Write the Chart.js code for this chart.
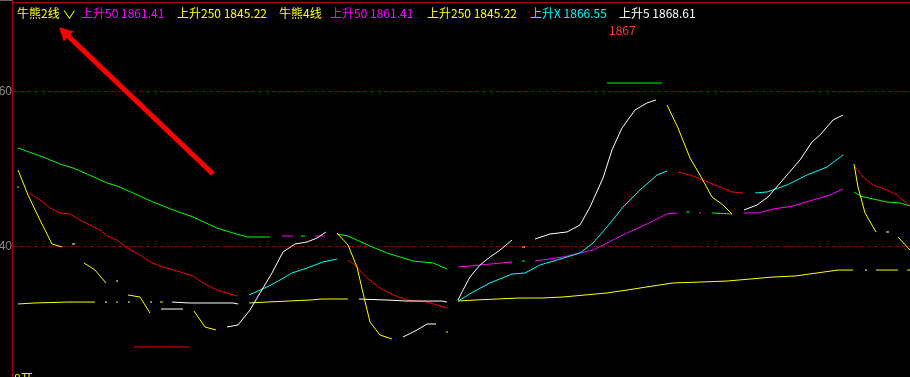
<!DOCTYPE html>
<html><head><meta charset="utf-8">
<script src="https://cdn.jsdelivr.net/npm/chart.js@4/dist/chart.umd.min.js"></script>
<style>
html,body{margin:0;padding:0;background:#000;overflow:hidden;}
#wrap{position:relative;width:910px;height:377px;background:#000;}
canvas{position:absolute;left:0;top:0;}
.t{position:absolute;font-family:"Noto Sans CJK SC","Noto Sans",sans-serif;font-size:12px;line-height:14px;white-space:nowrap;}
</style></head>
<body><div id="wrap"><canvas id="c" width="910" height="377"></canvas></div>
<script>
// ---- data (x = bar index, y = price) ----
const yTicks = [1840, 1860];
const tickLabels = ["40", "60"];

const greenIdx = [1.0,6.0,9.4,12.0,14.8,18.8,20.8,24.0,28.0,32.0,36.0,40.8,44.0,46.8,51.4,null,57.6,58.4,null,64.8,67.0,68.8,71.4,74.8,77.4,80.0,84.0,86.8,null,101.8,102.4,null,134.6,135.4,null,139.8,143.8,null,118.8,129.8,null,168.2,169.4,172.0,174.8,177.4,179.4];
const greenVal = [1852.65,1851.48,1850.58,1850.06,1849.29,1848.13,1847.74,1846.84,1845.68,1844.65,1843.74,1842.32,1841.68,1841.16,1841.16,null,1841.29,1841.29,null,1841.55,1841.29,1840.77,1840.00,1839.10,1838.58,1838.06,1837.81,1837.03,null,1838.06,1838.06,null,1844.39,1844.39,null,1844.26,1844.13,null,1861.03,1861.03,null,1846.97,1846.45,1846.06,1845.68,1845.55,1845.16];

const redIdx = [3.2,5.4,7.4,9.4,11.4,13.4,15.4,17.4,18.8,20.8,22.8,25.4,27.8,30.0,32.8,36.0,38.0,40.8,42.8,44.8,null,67.0,68.8,70.8,73.4,76.0,78.8,82.8,86.8,null,133.0,136.0,139.4,141.4,143.8,146.0,null,168.4,170.0,172.0,174.8,176.8,179.4,null,24.2,35.2];
const redVal = [1846.84,1845.94,1844.90,1844.26,1844.13,1843.35,1842.71,1842.06,1841.29,1840.77,1839.74,1838.84,1837.81,1837.29,1836.77,1836.13,1835.23,1834.32,1833.94,1833.55,null,1838.19,1837.29,1835.87,1834.58,1833.68,1833.03,1832.77,1832.00,null,1849.55,1849.03,1848.13,1847.61,1846.97,1846.84,null,1850.19,1848.90,1847.87,1847.23,1846.58,1845.16,null,1826.97,1826.97];

const yellowIdx = [1.0,3.0,5.4,7.8,9.8,null,14.2,16.4,18.6,null,23.0,25.4,27.4,null,36.2,38.4,40.6,null,1.0,4.4,11.0,16.4,null,20.6,21.0,null,29.4,30.0,null,47.2,50.8,55.0,59.4,61.8,67.0,null,89.0,92.4,96.8,101.4,105.8,110.0,114.4,118.8,122.8,128.0,132.0,137.4,142.8,147.4,152.0,156.4,160.8,165.0,168.0,null,172.6,177.0,null,178.8,179.4,null,64.8,67.0,68.8,70.0,71.4,73.4,75.8,null,86.6,87.0,null,101.8,102.4,null,130.8,133.0,135.4,137.4,139.8,142.0,143.8,null,168.2,169.0,170.4,172.6,null,177.0,179.4];
const yellowVal = [1849.81,1846.58,1843.35,1840.26,1839.87,null,1837.81,1836.90,1835.23,null,1833.68,1833.42,1831.35,null,1831.61,1829.55,1829.16,null,1832.52,1832.65,1832.77,1832.77,null,1832.77,1832.77,null,1832.77,1832.77,null,1832.65,1832.77,1832.90,1833.03,1833.16,1833.16,null,1832.90,1833.03,1833.16,1833.29,1833.29,1833.42,1833.68,1833.94,1834.32,1834.84,1835.23,1835.35,1835.48,1835.74,1836.00,1836.13,1836.52,1836.90,1836.90,null,1836.90,1836.90,null,1836.90,1836.90,null,1841.68,1840.13,1837.29,1833.94,1830.19,1828.52,1828.00,null,1828.90,1828.90,null,1839.87,1839.87,null,1858.19,1855.23,1851.35,1849.16,1846.32,1845.29,1844.13,null,1850.58,1847.61,1844.26,1841.81,null,1841.16,1839.48];

const whiteIdx = [11.8,12.4,null,20.6,21.0,null,18.4,18.8,null,23.0,23.4,null,27.4,27.8,null,31.8,35.2,44.0,45.0,null,29.6,34.0,null,42.8,45.0,47.4,49.4,51.8,54.0,56.4,58.8,60.8,62.6,null,69.2,74.8,78.8,85.8,86.8,null,78.0,80.8,82.8,84.6,null,89.0,90.0,91.4,93.4,95.4,97.4,99.8,null,104.4,107.4,110.8,113.4,115.4,118.0,119.8,121.8,124.4,126.8,128.6,null,146.2,148.8,151.0,154.8,157.4,159.8,161.4,164.0,166.0,null,170.4,170.8,null,174.6,175.2];
const whiteVal = [1840.26,1840.26,null,1835.48,1835.48,null,1832.77,1832.77,null,1832.77,1832.77,null,1832.77,1832.77,null,1832.77,1832.65,1832.65,1832.52,null,1831.87,1831.87,null,1829.55,1829.81,1831.74,1833.94,1836.52,1839.23,1840.26,1840.52,1841.03,1841.81,null,1833.16,1833.03,1832.90,1832.90,1832.77,null,1828.26,1829.16,1829.94,1829.94,null,1833.03,1834.32,1836.00,1837.55,1838.58,1839.48,1840.77,null,1840.90,1841.55,1841.81,1842.71,1845.03,1848.77,1852.39,1855.23,1857.55,1858.45,1858.84,null,1844.65,1845.29,1846.32,1849.16,1851.10,1853.42,1854.32,1856.26,1856.90,null,1836.90,1836.90,null,1841.81,1841.81];

const cyanIdx = [0.8,1.2,null,47.2,50.8,53.4,55.8,58.8,62.0,64.8,null,89.0,92.0,95.4,99.8,102.4,105.4,108.8,113.4,116.0,118.8,122.0,125.4,128.8,130.8,null,148.4,150.8,154.8,158.8,162.8,166.0];
const cyanVal = [1847.61,1847.61,null,1833.68,1834.71,1835.61,1836.52,1837.16,1837.94,1838.32,null,1832.90,1834.06,1835.23,1836.39,1836.52,1837.55,1838.19,1839.10,1840.39,1842.45,1845.03,1847.23,1849.16,1849.68,null,1846.84,1846.97,1847.87,1849.16,1850.19,1851.74];

const magentaIdx = [53.8,56.0,null,60.4,62.4,null,89.0,93.4,99.8,null,104.4,110.0,113.4,116.0,118.8,122.8,126.8,130.8,132.8,null,137.2,137.6,null,146.2,149.0,152.0,156.0,160.0,163.4,166.0];
const magentaVal = [1841.29,1841.29,null,1841.29,1841.29,null,1837.29,1837.55,1837.94,null,1838.06,1838.58,1839.10,1839.48,1840.39,1841.68,1842.84,1844.13,1844.26,null,1844.26,1844.26,null,1844.26,1844.26,1844.77,1845.16,1845.94,1846.58,1847.35];

// annotation arrow (from, to) in data units
const arrowIdx = [40.0, 9.8];
const arrowVal = [1849.29, 1867.85];

// legend texts
const legendItems = [
  {text:"牛熊2线", color:"#ffff00", left:17},
  {text:"∨", color:"#ffff00", left:64},
  {text:"上升50 1861.41", color:"#ff00ff", left:81},
  {text:"上升250 1845.22", color:"#ffff00", left:177},
  {text:"牛熊4线", color:"#ffff00", left:279},
  {text:"上升50 1861.41", color:"#ff00ff", left:330},
  {text:"上升250 1845.22", color:"#ffff00", left:427},
  {text:"上升X 1866.55", color:"#00ffff", left:530},
  {text:"上升5 1868.61", color:"#ffffff", left:619}
];
const priceLabel = "1867";
const bottomLabel = "8开";

// ---- build ----
function series(idx, val){
  const out=[]; let last=0;
  for(let i=0;i<idx.length;i++){
    if(idx[i]===null||val[i]===null){ out.push({x:last+0.01,y:null}); }
    else { out.push({x:idx[i],y:val[i]}); last=idx[i]; }
  }
  return out;
}
function ds(label, idx, val, color, w){
  return {label, data:series(idx,val), borderColor:color, backgroundColor:color,
    borderWidth:w||1, pointRadius:0, tension:0, spanGaps:false, fill:false};
}

const wrap=document.getElementById('wrap');
legendItems.forEach(it=>{
  const s=document.createElement('div'); s.className='t';
  s.textContent=it.text; s.style.color=it.color; s.style.left=it.left+'px'; s.style.top='6px';
  if(it.text==="∨"){s.style.fontSize='11px';s.style.transform='scaleX(1.3)';s.style.top='7px';}
  wrap.appendChild(s);
});
{const s=document.createElement('div'); s.className='t'; s.textContent=priceLabel; s.style.color='#ff3b3b'; s.style.left='609px'; s.style.top='23px'; wrap.appendChild(s);}
{const s=document.createElement('div'); s.className='t'; s.textContent=bottomLabel; s.style.color='#ffff00'; s.style.left='14px'; s.style.top='371px'; wrap.appendChild(s);}

const frame={id:'frame',
  beforeDatasetsDraw(chart){
    const {ctx,chartArea:a}=chart;
    const ys=chart.scales.y;
    ctx.save();
    // dashed grid lines + tick labels
    ctx.strokeStyle='#8b0000'; ctx.lineWidth=1; ctx.setLineDash([4,3]);
    ctx.fillStyle='#8a8a8a'; ctx.font='12px "Liberation Sans"'; ctx.textAlign='right'; ctx.textBaseline='middle';
    yTicks.forEach((v,i)=>{
      const py=Math.round(ys.getPixelForValue(v))+0.5;
      ctx.beginPath(); ctx.moveTo(a.left,py); ctx.lineTo(a.right,py); ctx.stroke();
      ctx.fillText(tickLabels[i], a.left-1, py);
    });
    ctx.setLineDash([]);
    ctx.strokeStyle='#b00000';
    ctx.beginPath(); ctx.moveTo(a.left-0.5,0); ctx.lineTo(a.left-0.5,chart.height); ctx.stroke();
    ctx.beginPath(); ctx.moveTo(a.left,2.5); ctx.lineTo(chart.width,2.5); ctx.stroke();
    ctx.strokeStyle='#666'; ctx.beginPath(); ctx.moveTo(0,0.5); ctx.lineTo(a.left,0.5); ctx.stroke();
    ctx.restore();
  },
  afterDatasetsDraw(chart){
    const meta=chart.getDatasetMeta(0); const pts=meta.data;
    const p0=pts[0], p1=pts[1];
    const ang=Math.atan2(p1.y-p0.y,p1.x-p0.x);
    const {ctx}=chart; ctx.save(); ctx.fillStyle='#ff0000';
    const L=13, W=7;
    const tx=p1.x+Math.cos(ang)*4, ty=p1.y+Math.sin(ang)*4;
    ctx.beginPath(); ctx.moveTo(tx,ty);
    ctx.lineTo(tx-L*Math.cos(ang)+W*Math.sin(ang), ty-L*Math.sin(ang)-W*Math.cos(ang));
    ctx.lineTo(tx-L*Math.cos(ang)-W*Math.sin(ang), ty-L*Math.sin(ang)+W*Math.cos(ang));
    ctx.closePath(); ctx.fill(); ctx.restore();
  }
};

new Chart(document.getElementById('c'),{
  type:'line',
  data:{datasets:[
    ds('arrow',arrowIdx,arrowVal,'#ff0000',5),
    ds('white',whiteIdx,whiteVal,'#ffffff'),
    ds('cyan',cyanIdx,cyanVal,'#00ffff'),
    ds('magenta',magentaIdx,magentaVal,'#ff00ff'),
    ds('yellow',yellowIdx,yellowVal,'#ffff00'),
    ds('red',redIdx,redVal,'#ff0000'),
    ds('green',greenIdx,greenVal,'#00ff00')
  ]},
  options:{
    responsive:false, animation:false, devicePixelRatio:1,
    layout:{padding:{top:3,left:13,right:0,bottom:0}},
    plugins:{legend:{display:false},tooltip:{enabled:false}},
    scales:{
      x:{type:'linear',min:0,max:179.4,display:false},
      y:{min:1823.10,max:1871.35,display:false}
    }
  },
  plugins:[frame]
});
</script></body></html>
